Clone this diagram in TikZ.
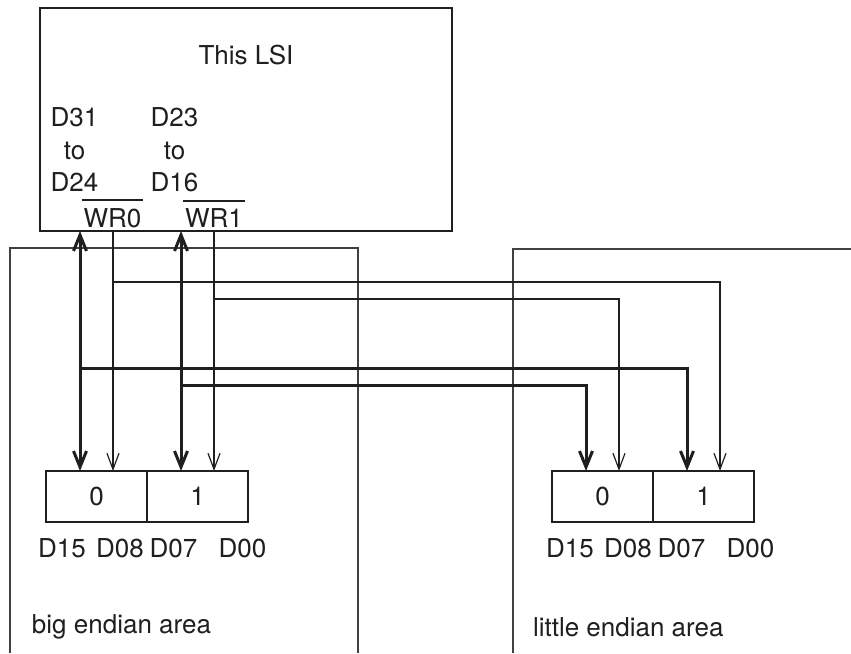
\documentclass[tikz,border=0pt]{standalone}
\usepackage{fontspec}
\setmainfont{TeX Gyre Heros}
\usetikzlibrary{arrows.meta,positioning}

\begin{document}
\begin{tikzpicture}[
            x=0.5pt,y=-0.5pt,
            color=black!88,
            every node/.style={
                inner sep=0pt,outer sep=0pt,
                font=\fontsize{13}{16.25}\selectfont
            },
            lsibox/.style={draw,line width=1.2pt,minimum width=206pt,minimum height=111.5pt},
            cell/.style={draw,line width=1.1pt,minimum width=50.5pt,minimum height=25.5pt},
            frame/.style={line width=0.6pt,black!75},
            bus/.style={line width=1.5pt,>={Straight Barb[length=8pt,width=6.5pt]}},
            sig/.style={line width=0.6pt,>={Straight Barb[length=8pt,width=6pt]}}
        ]
        \useasboundingbox (0,0) rectangle (851,653);
    % Areas
        \draw[frame] (10,653) |- (358,248) -- (358,653);
        \draw[frame] (513,653) |- (851,249);
    % LSI
        \node[lsibox] (lsi) at (246,119.5) {};
        \node (title) at (246,55) {This LSI};
        \node[align=center] (dhi) at (74.5,150) {D31\\to\\D24};
        \node[align=center] (dlo) at (174.5,150) {D23\\to\\D16};
        \node (wr0) at (112.5,218) {WR0};
        \node (wr1) at (214,218) {WR1};
    \foreach\n in {wr0,wr1}{
        \draw[line width=1pt] ([xshift=-1pt,yshift=4pt]\n.north west) -- ([xshift=1pt,yshift=4pt]\n.north east);
    }
        \coordinate (phi) at ([xshift=20pt]lsi.south west);
        \coordinate (pwr0) at ([xshift=36.5pt]lsi.south west);
        \coordinate (plo) at ([xshift=70.5pt]lsi.south west);
        \coordinate (pwr1) at ([xshift=87pt]lsi.south west);
    % Bytes
        \node[cell] (bl0) at (96.5,496.5) {0};
        \node[cell,right=0pt of bl0] (bl1) {1};
        \node[cell] (br0) at (602.5,496.5) {0};
        \node[cell,right=0pt of br0] (br1) {1};
    % Big endian
        \draw[bus,<->] (phi) -- (phi |- bl0.north);
        \draw[sig,->] (pwr0) -- (pwr0 |- bl0.north);
        \draw[bus,<->] (plo) -- (plo |- bl1.north);
        \draw[sig,->] (pwr1) -- (pwr1 |- bl1.north);
    % Little endian
        \draw[sig,->] (pwr0 |- 0,282) -| ([xshift=8.25pt]br1.north);
        \draw[sig,->] (pwr1 |- 0,299) -| ([xshift=8.25pt]br0.north);
        \draw[bus,->] (phi |- 0,368) -| ([xshift=-8.25pt]br1.north);
        \draw[bus,->] (plo |- 0,385) -| ([xshift=-8.25pt]br0.north);
    % Labels
    \foreach\lbl/\x in {D15/62,D08/120,D07/173.5,D00/242.5}{
        \node (bl\lbl) at (\x,548) {\lbl};
        \node (br\lbl) at (\x+508,548) {\lbl};
    }
        \node[anchor=west] (big) at (32,627) {big endian area};
        \node[anchor=west] (little) at (533,627) {little endian area};
    \end{tikzpicture}
\end{document}
